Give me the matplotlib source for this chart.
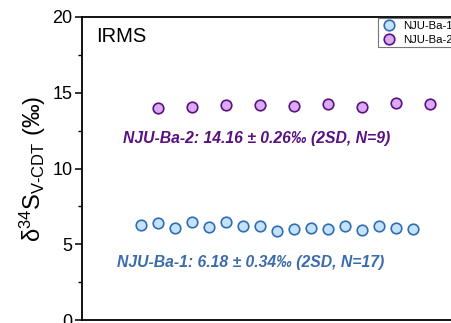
import matplotlib
matplotlib.use('Agg')
import matplotlib.pyplot as plt

plt.rcParams['font.family'] = ['Liberation Sans', 'DejaVu Sans']
plt.rcParams['mathtext.fontset'] = 'custom'
plt.rcParams['mathtext.rm'] = 'Liberation Sans'
plt.rcParams['mathtext.it'] = 'Liberation Sans:italic'

# data
ba1_x = list(range(1, 18))
ba1_y = [6.28, 6.39, 6.06, 6.46, 6.17, 6.46, 6.22, 6.24, 5.89,
         6.04, 6.06, 6.02, 6.24, 5.95, 6.22, 6.10, 6.04]
ba2_x = list(range(2, 19, 2))
ba2_y = [13.97, 14.02, 14.17, 14.19, 14.13, 14.28, 14.06, 14.33, 14.24]

labels = ['NJU-Ba-1', 'NJU-Ba-2']
note1 = 'NJU-Ba-1: 6.18 ± 0.34‰ (2SD, N=17)'
note2 = 'NJU-Ba-2: 14.16 ± 0.26‰ (2SD, N=9)'

blue_fc, blue_ec = '#c4e3fa', '#2f6db3'
purp_fc, purp_ec = '#dcaaf5', '#5a117f'

fig = plt.figure(figsize=(4.52, 3.23), dpi=100)
ax = fig.add_axes([82/452, 2.7/323, 391/452, 303.6/323])

ax.plot(ba1_x, ba1_y, 'o', ms=7.6, mfc=blue_fc, mec=blue_ec, mew=1.2,
        ls='none', label=labels[0])
ax.plot(ba2_x, ba2_y, 'o', ms=7.6, mfc=purp_fc, mec=purp_ec, mew=1.2,
        ls='none', label=labels[1])

ax.set_xlim(-2.5, 20.5)
ax.set_ylim(0, 20)
ax.set_yticks([0, 5, 10, 15, 20])
ax.set_yticks([2.5, 7.5, 12.5, 17.5], minor=True)
ax.set_xticks([])
ax.tick_params(axis='y', which='major', direction='out', length=5, width=1.1,
               labelsize=13, pad=2)
ax.tick_params(axis='y', which='minor', direction='out', length=3, width=1.0)
for s in ax.spines.values():
    s.set_linewidth(1.3)

ax.set_ylabel(r'δ$^{34}$S$_{\mathrm{V\text{-}CDT}}$ (‰)', fontsize=17, labelpad=3)

fig.text(95.7/452, 1 - 36.7/323, 'IRMS', fontsize=14.5, va='center')

ax.text(-0.1, 12.0, note2, color=purp_ec, fontsize=11.3, fontweight='bold',
        fontstyle='italic', va='center')
ax.text(-0.45, 3.8, note1, color='#3b6cab', fontsize=11.3, fontweight='bold',
        fontstyle='italic', va='center')

leg = ax.legend(loc='upper left', bbox_to_anchor=(378/452, 1 - 18.3/323),
                bbox_transform=fig.transFigure, fontsize=8.2, frameon=True,
                fancybox=False, edgecolor='#555555', borderaxespad=0,
                handletextpad=0.6, borderpad=0.25, labelspacing=0.3,
                handlelength=1.4)
leg.get_frame().set_linewidth(0.8)

fig.savefig('out.png', dpi=100)
